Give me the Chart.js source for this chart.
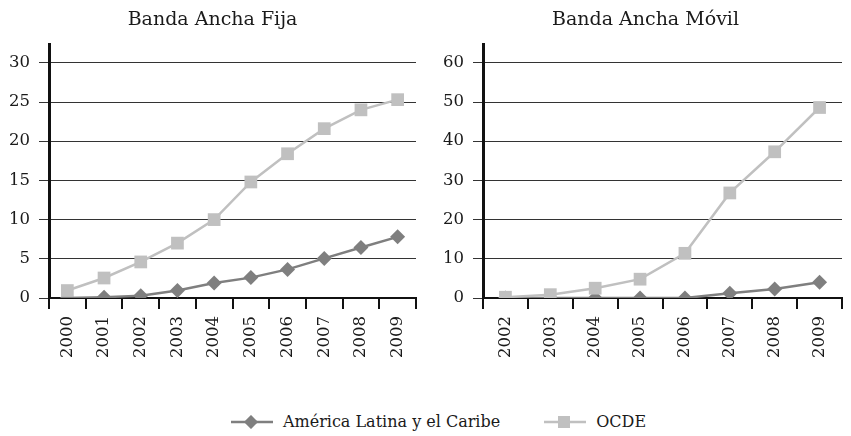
<!DOCTYPE html>
<html>
<head>
<meta charset="utf-8">
<script src="https://cdn.jsdelivr.net/npm/chart.js@4/dist/chart.umd.min.js"></script>
<style>
  html, body { margin: 0; padding: 0; background: #fff; }
  body { width: 851px; height: 436px; position: relative; overflow: hidden; font-family: "DejaVu Serif", serif; }
  #c1 { position: absolute; left: 0; top: 0; }
  #c2 { position: absolute; left: 440px; top: 0; }
  #legend { position: absolute; left: 13px; top: 412px; width: 851px; text-align: center; font-size: 16px; color: #1a1a1a; }
  .item { display: inline-flex; align-items: center; margin: 0 14px; }
  .item svg { margin-right: 10px; }
</style>
</head>
<body>
<canvas id="c1" width="425" height="380"></canvas>
<canvas id="c2" width="411" height="380"></canvas>
<div id="legend"></div>
<script>
const seriesNames = ["América Latina y el Caribe", "OCDE"];
const fijaYears = ["2000","2001","2002","2003","2004","2005","2006","2007","2008","2009"];
const fijaALC  = [0, 0.1, 0.3, 0.95, 1.9, 2.6, 3.65, 5.05, 6.45, 7.8];
const fijaOCDE = [0.95, 2.55, 4.6, 7.0, 10.0, 14.8, 18.4, 21.6, 24.0, 25.3];
const movilYears = ["2002","2003","2004","2005","2006","2007","2008","2009"];
const movilALC  = [0, 0, 0, 0, 0, 1.2, 2.3, 4.0];
const movilOCDE = [0.2, 0.85, 2.5, 4.8, 11.4, 26.8, 37.3, 48.6];
const fijaTicks = [0, 5, 10, 15, 20, 25, 30];
const movilTicks = [0, 10, 20, 30, 40, 50, 60];

const DARK = "#7f7f7f", LIGHT = "#c0c0c0";
const FONT = "'DejaVu Serif', serif";
const TXT = "#1a1a1a";

function ds(label, data, color, style, radius) {
  return { label, data, borderColor: color, backgroundColor: color, borderWidth: 2.5,
    pointStyle: style, pointRadius: radius, pointHoverRadius: radius, pointBorderWidth: 0, tension: 0 };
}

function makeChart(id, title, labels, alc, ocde, ticks, yMax, yWidth) {
  const step = ticks[1] - ticks[0];
  return new Chart(document.getElementById(id), {
    type: "line",
    data: { labels, datasets: [
      ds(seriesNames[1], ocde, LIGHT, "rect", 9),
      ds(seriesNames[0], alc, DARK, "rectRot", 7.5)
    ] },
    options: {
      responsive: false, animation: false,
      layout: { padding: 0 },
      plugins: {
        legend: { display: false }, tooltip: { enabled: false },
        title: { display: true, text: title, color: TXT,
          font: { family: FONT, size: 19, weight: "normal" },
          padding: { top: 8.6, bottom: 12.6 } }
      },
      scales: {
        x: {
          type: "category", offset: true,
          grid: { offset: true, drawOnChartArea: false, drawTicks: true, tickLength: 11, color: "#111", lineWidth: 2 },
          border: { display: true, color: "#111", width: 2 },
          ticks: { color: TXT, minRotation: 90, maxRotation: 90, padding: 7, autoSkip: false,
            font: { family: FONT, size: 16.5 } },
          afterFit: s => { s.height = 82; }
        },
        y: {
          min: 0, max: yMax,
          afterBuildTicks: s => { s.ticks = ticks.map(v => ({ value: v })); },
          grid: { color: "#333", lineWidth: 1, tickLength: 10, drawTicks: true },
          border: { display: true, color: "#111", width: 3 },
          ticks: { color: TXT, padding: 9, font: { family: FONT, size: 16.5 }, includeBounds: false, stepSize: step },
          afterFit: s => { s.width = yWidth; }
        }
      }
    }
  });
}

makeChart("c1", "Banda Ancha Fija", fijaYears, fijaALC, fijaOCDE, fijaTicks, 32.4, 49);
makeChart("c2", "Banda Ancha Móvil", movilYears, movilALC, movilOCDE, movilTicks, 64.8, 43);

function marker(color, shape) {
  const m = shape === "diamond"
    ? `<rect x="15" y="2" width="10" height="10" fill="${color}" transform="rotate(45 20 7)"/>`
    : `<rect x="14" y="1" width="12" height="12" fill="${color}"/>`;
  return `<svg width="42" height="14" viewBox="0 0 42 14"><line x1="0" y1="7" x2="42" y2="7" stroke="${color}" stroke-width="2.5"/>${m}</svg>`;
}
document.getElementById("legend").innerHTML =
  `<span class="item">${marker(DARK, "diamond")}${seriesNames[0]}</span>` +
  `<span class="item" style="margin-left:30px">${marker(LIGHT, "square")}${seriesNames[1]}</span>`;
</script>
</body>
</html>
